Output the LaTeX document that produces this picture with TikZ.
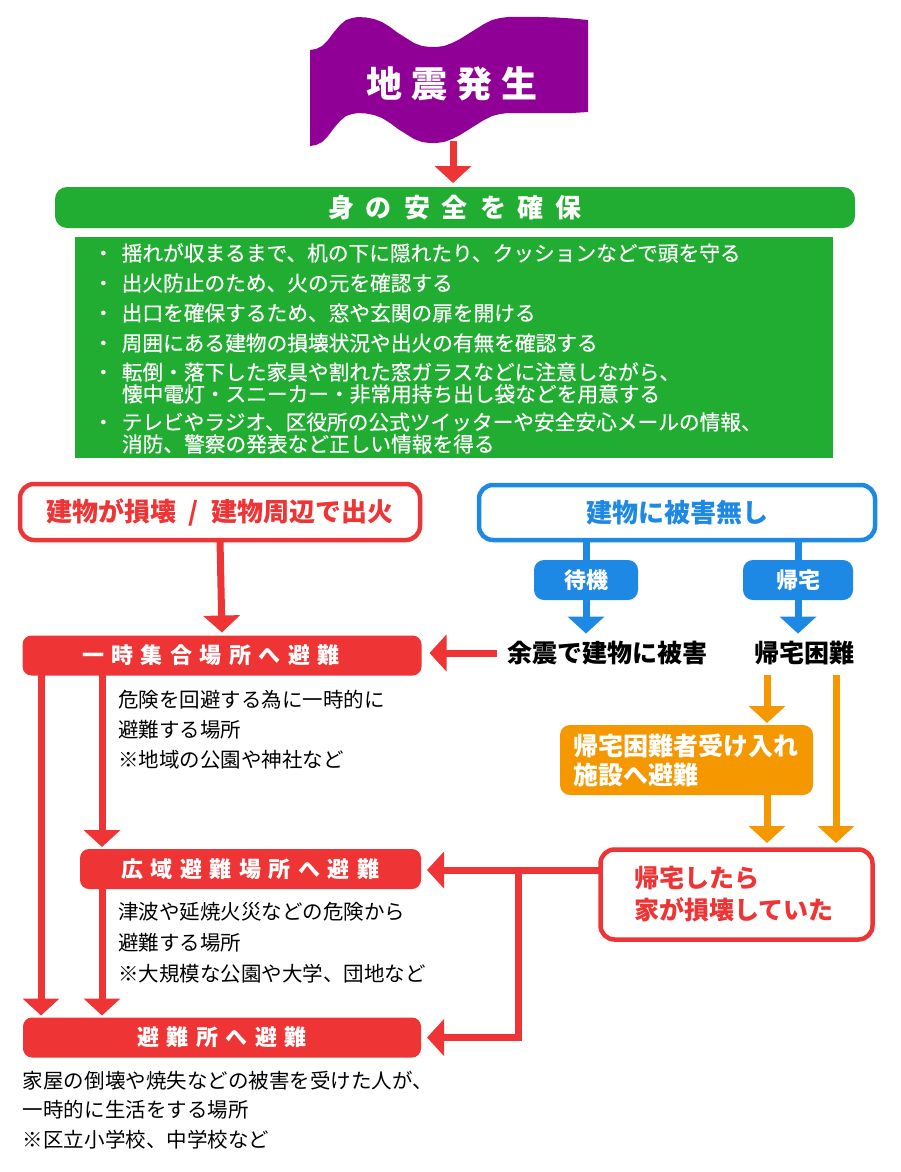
\documentclass[tikz,border=0pt]{standalone}
\usepackage{fontspec}
\setmainfont{Noto Sans CJK JP}
\newfontfamily\jpmed[FakeBold=0.5]{Noto Sans CJK JP}
\usetikzlibrary{arrows.meta}
\definecolor{cRed}{RGB}{238,52,52}
\definecolor{cGreen}{RGB}{33,172,50}
\definecolor{cBlue}{RGB}{30,136,229}
\definecolor{cOrange}{RGB}{245,152,0}
\definecolor{cPurple}{RGB}{145,0,150}
\newdimen\spgap
\def\spfirst#1{#1\sprest}
\def\sprest#1{\ifx#1\relax\else\kern\spgap #1\expandafter\sprest\fi}
\newcommand\sptxt[2]{{\spgap=#1\relax\spfirst#2\relax}}
\tikzset{
  base/.style={inner sep=0pt, outer sep=0pt},
  jtxt/.style={base, anchor=west, font=\fontsize{20.5}{24}\selectfont},
  ltxt/.style={base, anchor=west, text=white, font=\jpmed\fontsize{20.7}{24}\selectfont},
  redfill/.style={base, fill=cRed, rounded corners=9pt, minimum height=40pt, text=white, font=\bfseries\fontsize{22}{22}\selectfont},
  redframe/.style={base, draw=cRed, line width=4.5pt, fill=white, rounded corners=14pt, text=cRed, font=\bfseries\fontsize{26}{26}\selectfont},
  blueframe/.style={base, draw=cBlue, line width=4.5pt, fill=white, rounded corners=14pt, text=cBlue, font=\bfseries\fontsize{26}{26}\selectfont},
  bluefill/.style={base, fill=cBlue, rounded corners=10pt, minimum height=40pt, text=white, font=\bfseries\fontsize{22}{22}\selectfont},
  bigtxt/.style={base, font=\bfseries\fontsize{25}{25}\selectfont},
  arrbase/.style={line width=7pt, -{Triangle[width=36pt,length=17pt]}},
  rarr/.style={arrbase, draw=cRed},
  barr/.style={arrbase, draw=cBlue},
  oarr/.style={arrbase, draw=cOrange},
  bline/.style={line width=7pt, draw=cBlue},
}
\begin{document}
\begin{tikzpicture}[x=1pt,y=-1pt]
\useasboundingbox (0,0) rectangle (900,1172);
\fill[white] (0,0) rectangle (900,1172);
% banner (wavy top and bottom edges)
\fill[cPurple] (310,50) -- (316,49) -- (322,46) -- (328,40) -- (334,32) -- (340,25) -- (346,20) -- (352,18) -- (358,17)
  -- (366,17.5) -- (374,19) -- (382,22) -- (390,27) -- (398,33) -- (406,38) -- (414,43) -- (422,46) -- (430,47) -- (436,47)
  -- (444,46) -- (452,43) -- (460,39) -- (468,34) -- (476,29) -- (484,24) -- (492,20) -- (500,18) -- (508,17) -- (523,17)
  -- (540,17) -- (556,17.5) -- (572,18.5) -- (588,20)
  -- (588,112)
  -- (572,113) -- (556,113) -- (540,113) -- (523,113) -- (508,113) -- (500,114) -- (492,116) -- (484,120) -- (476,125)
  -- (468,130) -- (460,135) -- (452,139) -- (444,142) -- (436,143) -- (430,143) -- (422,142) -- (414,139) -- (406,134)
  -- (398,129) -- (390,123) -- (382,118) -- (374,115) -- (366,113.5) -- (358,113) -- (352,114) -- (346,116) -- (340,121)
  -- (334,128) -- (328,136) -- (322,142) -- (316,145) -- (310,146) -- cycle;
\node[base, text=white, font=\bfseries\fontsize{36}{36}\selectfont] (quake) at (452,84) {\sptxt{9pt}{地震発生}};
% safety
\node[base, fill=cGreen, rounded corners=12pt, minimum width=800pt, minimum height=41pt, text=white, font=\bfseries\fontsize{26}{26}\selectfont] (safety) at (455,207.5) {\sptxt{12pt}{身の安全を確保}};
\coordinate (qb) at (453,141);
\draw[rarr, shorten >=4pt] (qb) -- (qb |- safety.north);
\node[base, fill=cGreen, minimum width=758pt, minimum height=221pt] (listbg) at (454,347.5) {};
\node[ltxt] (i1) at (93,253) {・\kern8pt 揺れが収まるまで、机の下に隠れたり、クッションなどで頭を守る};
\node[ltxt] (i2) at (93,283) {・\kern8pt 出火防止のため、火の元を確認する};
\node[ltxt] (i3) at (93,313) {・\kern8pt 出口を確保するため、窓や玄関の扉を開ける};
\node[ltxt] (i4) at (93,343) {・\kern8pt 周囲にある建物の損壊状況や出火の有無を確認する};
\node[ltxt] (i5) at (93,372) {・\kern8pt 転倒・落下した家具や割れた窓ガラスなどに注意しながら、};
\node[ltxt] (i5b) at (122,394) {懐中電灯・スニーカー・非常用持ち出し袋などを用意する};
\node[ltxt] (i6) at (93,422) {・\kern8pt テレビやラジオ、区役所の公式ツイッターや安全安心メールの情報、};
\node[ltxt] (i6b) at (122,444) {消防、警察の発表など正しい情報を得る};
% branches
\node[redframe, minimum width=400pt, minimum height=56pt] (dmg) at (220,512) {建物が損壊\hspace{12pt}/\hspace{12pt}建物周辺で出火};
\node[blueframe, minimum width=396pt, minimum height=55pt] (nodmg) at (677,512.5) {建物に被害無し};
\node[bluefill, minimum width=104pt] (taiki) at (586,580) {待機};
\node[bluefill, minimum width=110pt] (kitaku) at (798,580) {帰宅};
\draw[bline] (nodmg.south -| taiki) -- (taiki.north);
\draw[bline] (nodmg.south -| kitaku) -- (kitaku.north);
\node[bigtxt] (yoshin) at (607,653) {余震で建物に被害};
\node[bigtxt] (konnan) at (804,653) {帰宅困難};
\draw[barr, shorten >=7.5pt] (taiki.south) -- (taiki.south |- yoshin.north);
\draw[barr, shorten >=7.5pt] (kitaku.south) -- (kitaku.south |- konnan.north);
% left column
\node[redfill, minimum width=399pt] (ichiji) at (222,655.5) {\sptxt{7.5pt}{一時集合場所へ避難}\kern22pt};
\draw[rarr, shorten >=3pt] (dmg.south) -- (ichiji.north);
\draw[rarr, shorten <=10pt, shorten >=8pt] (yoshin.west) -- (yoshin.west -| ichiji.east);
\node[jtxt] (d1a) at (118,700) {危険を回避する為に一時的に};
\node[jtxt] (d1b) at (118,730) {避難する場所};
\node[jtxt] (d1c) at (118,760) {※地域の公園や神社など};
\node[redfill, minimum width=341pt] (kouiki) at (250.5,869) {\sptxt{7.5pt}{広域避難場所へ避難}};
\node[jtxt] (d2a) at (118,912) {津波や延焼火災などの危険から};
\node[jtxt] (d2b) at (118,943) {避難する場所};
\node[jtxt] (d2c) at (118,974) {※大規模な公園や大学、団地など};
\node[redfill, minimum width=398pt] (hinanjo) at (222,1037.5) {\sptxt{7.5pt}{避難所へ避難}};
\node[jtxt] (d3a) at (23,1081) {家屋の倒壊や焼失などの被害を受けた人が、};
\node[jtxt] (d3b) at (23,1110) {一時的に生活をする場所};
\node[jtxt] (d3c) at (23,1140) {※区立小学校、中学校など};
\coordinate (L1) at (41,675);
\coordinate (L2) at (102,675);
\draw[rarr, shorten >=2pt] (L1) -- (L1 |- hinanjo.north);
\draw[rarr, shorten >=2pt] (L2) -- (L2 |- kouiki.north);
\draw[rarr, shorten >=2pt] (kouiki.south -| L2) -- (L2 |- hinanjo.north);
% right column
\node[base, fill=cOrange, rounded corners=10pt, minimum width=253pt, minimum height=70pt, text=white, font=\bfseries\fontsize{25}{29}\selectfont, align=left, text width=226pt] (ukeire) at (686.5,760) {帰宅困難者受け入れ\\施設へ避難};
\node[redframe, minimum width=272pt, minimum height=90pt, align=left, text width=205pt, font=\bfseries\fontsize{25}{32}\selectfont] (kowa) at (736.5,894.5) {帰宅したら\\家が損壊していた};
\coordinate (o1) at (767,675);
\coordinate (o2) at (836,675);
\draw[oarr, shorten >=2pt] (o1) -- (o1 |- ukeire.north);
\draw[oarr, shorten >=6.5pt] (ukeire.south -| o1) -- (o1 |- kowa.north);
\draw[oarr, shorten >=6.5pt] (o2) -- (o2 |- kowa.north);
\coordinate (J) at (518,870);
\draw[rarr, shorten >=6pt] (kowa.west |- J) -- (J -| kouiki.east);
\draw[rarr, shorten >=6pt] (J) |- (hinanjo.east);
\end{tikzpicture}
\end{document}
